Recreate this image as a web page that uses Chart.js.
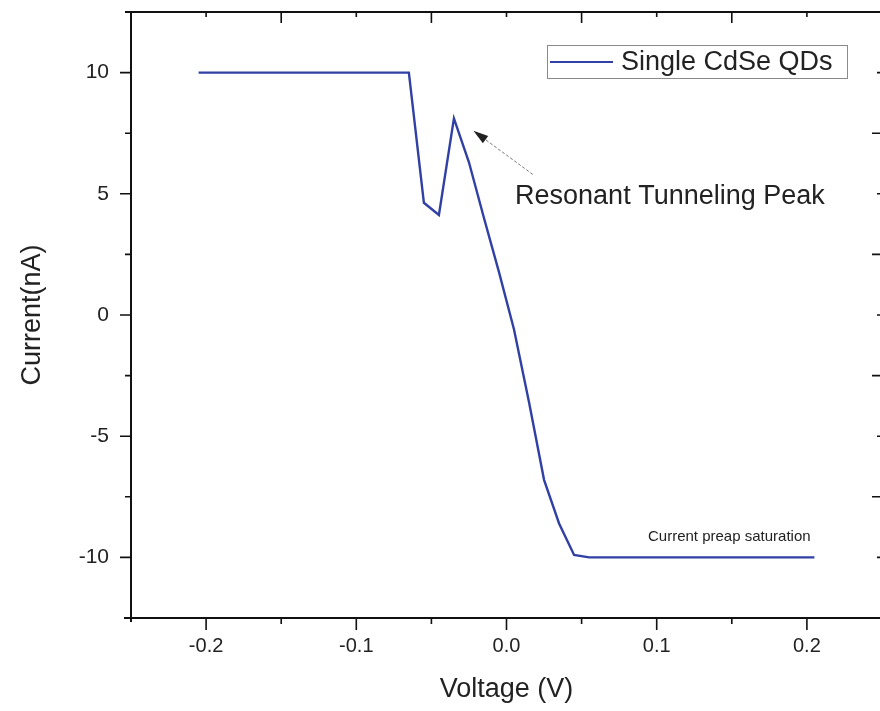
<!DOCTYPE html>
<html>
<head>
<meta charset="utf-8">
<title>Single CdSe QDs I-V</title>
<script src="https://cdn.jsdelivr.net/npm/chart.js@4.4.0/dist/chart.umd.min.js"></script>
<style>
  html, body { margin: 0; padding: 0; background: #fff; overflow: hidden; }
  #wrap { width: 880px; height: 711px; overflow: hidden; }
</style>
</head>
<body>
<div id="wrap"><canvas id="canvas" width="884" height="711"></canvas></div>
<script>
/* I-V curve of a single CdSe quantum dot */
const voltage = [-0.205, -0.065, -0.055, -0.045, -0.035, -0.025, -0.015, -0.005,
                 0.005, 0.015, 0.025, 0.035, 0.045, 0.055, 0.205];
const current = [10, 10, 4.63, 4.13, 8.11, 6.3, 4.0, 1.77,
                 -0.6, -3.6, -6.8, -8.6, -9.9, -10, -10];

const xTicks = [-0.2, -0.1, 0.0, 0.1, 0.2];
const yTicks = [-10, -5, 0, 5, 10];

const xMin = -0.25, xMax = 0.25;
const yMin = -12.5, yMax = 12.5;

const lineColor = '#3040a4';
const textColor = '#222';
const fontFamily = '"Liberation Sans", Arial, sans-serif';

const points = voltage.map(function(v, i){
    return {x: v, y: current[i]};
});

/* ticks halfway between the labelled ones */
function halfSteps(ticks, lo, hi){
    const step = ticks[1] - ticks[0];
    const out = [];
    for (let v = ticks[0] - step / 2; v < hi; v += step) {
        if (v > lo && v < hi) out.push(+v.toFixed(4));
    }
    return out;
}

/* frame, tick marks, legend box and notes */
const framePlugin = {
    id: 'frame',
    afterDraw(chart){
        const ctx = chart.ctx;
        const a = chart.chartArea;
        const xs = chart.scales.x;
        const ys = chart.scales.y;
        const xMinor = halfSteps(xTicks, xMin, xMax);
        const yMinor = halfSteps(yTicks, yMin, yMax);

        ctx.save();
        ctx.strokeStyle = '#111';
        ctx.lineWidth = 2;
        ctx.beginPath();
        ctx.moveTo(a.left - 6, a.top); ctx.lineTo(a.right, a.top);
        ctx.moveTo(a.left - 7, a.bottom); ctx.lineTo(a.right, a.bottom);
        ctx.moveTo(a.left, a.top); ctx.lineTo(a.left, a.bottom + 4);
        ctx.moveTo(a.right, a.top); ctx.lineTo(a.right, a.bottom);
        ctx.stroke();

        ctx.lineWidth = 1.6;
        ctx.beginPath();
        // bottom: outward
        xTicks.forEach(function(v){
            const p = xs.getPixelForValue(v);
            ctx.moveTo(p, a.bottom); ctx.lineTo(p, a.bottom + 12);
        });
        xMinor.forEach(function(v){
            const p = xs.getPixelForValue(v);
            ctx.moveTo(p, a.bottom); ctx.lineTo(p, a.bottom + 6);
        });
        // left: outward
        yTicks.forEach(function(v){
            const p = ys.getPixelForValue(v);
            ctx.moveTo(a.left, p); ctx.lineTo(a.left - 11, p);
        });
        yMinor.forEach(function(v){
            const p = ys.getPixelForValue(v);
            ctx.moveTo(a.left, p); ctx.lineTo(a.left - 6, p);
        });
        // top and right: inward
        xTicks.forEach(function(v){
            const p = xs.getPixelForValue(v);
            ctx.moveTo(p, a.top); ctx.lineTo(p, a.top + 5);
        });
        xMinor.forEach(function(v){
            const p = xs.getPixelForValue(v);
            ctx.moveTo(p, a.top); ctx.lineTo(p, a.top + 11);
        });
        yTicks.forEach(function(v){
            const p = ys.getPixelForValue(v);
            ctx.moveTo(a.right, p); ctx.lineTo(a.right - 5, p);
        });
        yMinor.forEach(function(v){
            const p = ys.getPixelForValue(v);
            ctx.moveTo(a.right, p); ctx.lineTo(a.right - 10, p);
        });
        ctx.stroke();

        // legend
        const ds = chart.data.datasets[0];
        ctx.strokeStyle = '#8a8a8a';
        ctx.lineWidth = 1;
        ctx.strokeRect(547.5, 45.5, 300, 33);
        ctx.strokeStyle = ds.borderColor;
        ctx.lineWidth = 2.2;
        ctx.beginPath();
        ctx.moveTo(550, 62); ctx.lineTo(613, 62);
        ctx.stroke();
        ctx.fillStyle = textColor;
        ctx.font = '27px ' + fontFamily;
        ctx.textBaseline = 'middle';
        ctx.textAlign = 'left';
        ctx.fillText(ds.label, 621, 63);

        // peak note with arrow
        const tipX = xs.getPixelForValue(-0.022), tipY = ys.getPixelForValue(7.6);
        const tailX = xs.getPixelForValue(0.0175), tailY = ys.getPixelForValue(5.8);
        const ang = Math.atan2(tipY - tailY, tipX - tailX);
        const headLen = 15;
        ctx.strokeStyle = '#777';
        ctx.lineWidth = 1;
        ctx.setLineDash([3, 2]);
        ctx.beginPath();
        ctx.moveTo(tailX, tailY);
        ctx.lineTo(tipX - headLen * Math.cos(ang), tipY - headLen * Math.sin(ang));
        ctx.stroke();
        ctx.setLineDash([]);
        ctx.fillStyle = '#222';
        ctx.beginPath();
        ctx.moveTo(tipX, tipY);
        ctx.lineTo(tipX - headLen * Math.cos(ang) + 4.5 * Math.sin(ang), tipY - headLen * Math.sin(ang) - 4.5 * Math.cos(ang));
        ctx.lineTo(tipX - headLen * Math.cos(ang) - 4.5 * Math.sin(ang), tipY - headLen * Math.sin(ang) + 4.5 * Math.cos(ang));
        ctx.closePath();
        ctx.fill();

        ctx.fillStyle = textColor;
        ctx.font = '27px ' + fontFamily;
        ctx.fillText('Resonant Tunneling Peak', xs.getPixelForValue(0.0057), ys.getPixelForValue(4.9));

        ctx.font = '15px ' + fontFamily;
        ctx.fillText('Current preap saturation', xs.getPixelForValue(0.0942), ys.getPixelForValue(-9.16));
        ctx.restore();
    }
};

const ctx = document.getElementById('canvas');
new Chart(ctx, {
    type: 'line',
    data: {
        datasets: [{
            label: 'Single CdSe QDs',
            data: points,
            borderColor: lineColor,
            borderWidth: 2.4,
            pointRadius: 0,
            tension: 0,
            fill: false
        }]
    },
    options: {
        responsive: false,
        animation: false,
        devicePixelRatio: 1,
        layout: { padding: { top: 12, right: 2, left: 0, bottom: 0 } },
        plugins: {
            legend: { display: false },
            tooltip: { enabled: false }
        },
        scales: {
            x: {
                type: 'linear',
                min: xMin,
                max: xMax,
                afterBuildTicks: function(scale){
                    scale.ticks = xTicks.map(function(v){ return {value: v}; });
                },
                afterFit: function(scale){
                    scale.height = 93;
                    scale.paddingLeft = 0;
                    scale.paddingRight = 0;
                },
                grid: { display: false, drawTicks: false },
                border: { display: false },
                ticks: {
                    padding: 16,
                    color: textColor,
                    font: { family: fontFamily, size: 20 },
                    maxRotation: 0,
                    callback: function(v){ return v.toFixed(1); }
                },
                title: {
                    display: true,
                    text: 'Voltage (V)',
                    color: textColor,
                    font: { family: fontFamily, size: 27 },
                    padding: { top: 0, bottom: 5 }
                }
            },
            y: {
                type: 'linear',
                min: yMin,
                max: yMax,
                afterBuildTicks: function(scale){
                    scale.ticks = yTicks.map(function(v){ return {value: v}; });
                },
                afterFit: function(scale){
                    scale.width = 131;
                    scale.paddingTop = 0;
                    scale.paddingBottom = 0;
                },
                grid: { display: false, drawTicks: false },
                border: { display: false },
                ticks: {
                    padding: 22,
                    color: textColor,
                    font: { family: fontFamily, size: 21 }
                },
                title: {
                    display: true,
                    text: 'Current(nA)',
                    color: textColor,
                    font: { family: fontFamily, size: 27 },
                    padding: { top: 16, bottom: 0 }
                }
            }
        }
    },
    plugins: [framePlugin]
});
</script>
</body>
</html>
